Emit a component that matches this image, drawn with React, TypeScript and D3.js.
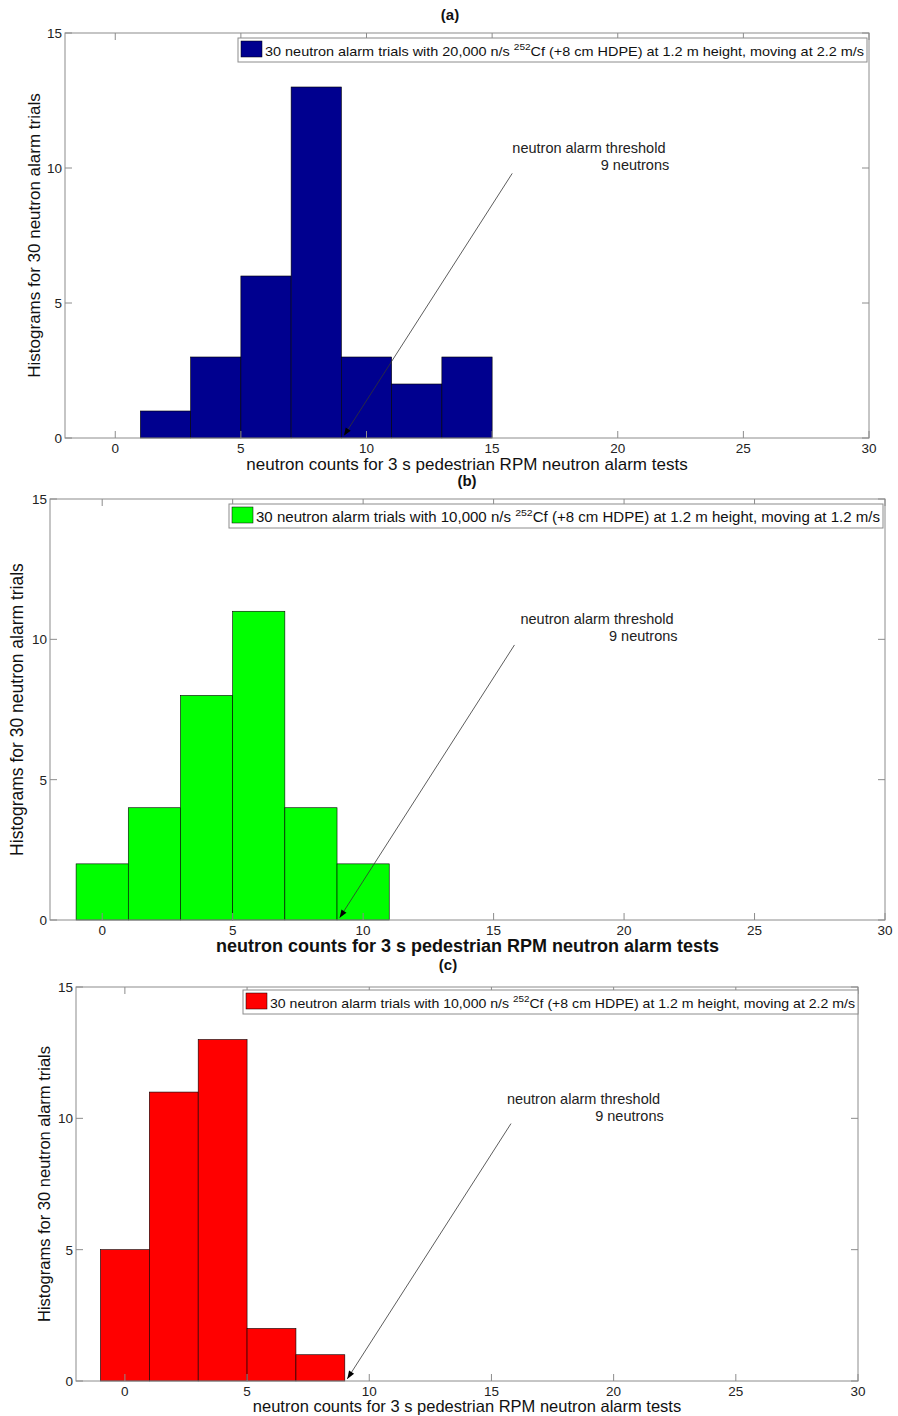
import React from "react";
import * as d3 from "d3";

const binWidth = 2;
const binCentersA = [2, 4, 6, 8, 10, 12, 14];
const countsA = [1, 3, 6, 13, 3, 2, 3];
const binCentersB = [0, 2, 4, 6, 8, 10];
const countsB = [2, 4, 8, 11, 4, 2];
const binCentersC = [0, 2, 4, 6, 8];
const countsC = [5, 11, 13, 2, 1];

const xTicks = [0, 5, 10, 15, 20, 25, 30];
const yTicks = [0, 5, 10, 15];
const xDomain = [-2, 30];
const yDomain = [0, 15];

const thresholdValue = 9;
const yLabel = "Histograms for 30 neutron alarm trials";
const xLabel = "neutron counts for 3 s pedestrian RPM neutron alarm tests";
const legendA = ["30 neutron alarm trials with 20,000 n/s ", "252", "Cf (+8 cm HDPE) at 1.2 m height, moving at 2.2 m/s"];
const legendB = ["30 neutron alarm trials with 10,000 n/s ", "252", "Cf (+8 cm HDPE) at 1.2 m height, moving at 1.2 m/s"];
const legendC = ["30 neutron alarm trials with 10,000 n/s ", "252", "Cf (+8 cm HDPE) at 1.2 m height, moving at 2.2 m/s"];

const FONT = "Liberation Sans, Arial, sans-serif";
const AXIS = "#8c8c8c";

type PanelProps = {
  title: string;
  centers: number[];
  counts: number[];
  color: string;
  left: number;
  right: number;
  top: number;
  bottom: number;
  legend: string[];
  legendBox: [number, number, number, number];
  legendFont: number;
  titleX: number;
  titleY: number;
  yLabelX: number;
  yLabelSize: number;
  xLabelY: number;
  xLabelSize: number;
  xLabelBold?: boolean;
};

function Panel(p: PanelProps) {
  const x = d3.scaleLinear().domain(xDomain).range([p.left, p.right]);
  const y = d3.scaleLinear().domain(yDomain).range([p.bottom, p.top]);
  const tl = 7;
  const [lx, ly, lw, lh] = p.legendBox;
  const midX = (p.left + p.right) / 2;
  const tail = [15.8, 9.8];
  const head = [thresholdValue + 0.1, 0.08];
  const hx = x(head[0]), hy = y(head[1]);
  const tx = x(tail[0]), ty = y(tail[1]);
  const ang = Math.atan2(ty - hy, tx - hx);
  const aL = 8, aW = 3;
  const p1 = [hx + aL * Math.cos(ang) - aW * Math.sin(ang), hy + aL * Math.sin(ang) + aW * Math.cos(ang)];
  const p2 = [hx + aL * Math.cos(ang) + aW * Math.sin(ang), hy + aL * Math.sin(ang) - aW * Math.cos(ang)];
  return (
    <g fontFamily={FONT}>
      <text x={p.titleX} y={p.titleY} fontSize={15} fontWeight="bold" textAnchor="middle" fill="#111">{p.title}</text>
      {p.centers.map((c, i) => (
        <rect key={i} x={x(c - binWidth / 2)} y={y(p.counts[i])} width={x(c + binWidth / 2) - x(c - binWidth / 2)} height={y(0) - y(p.counts[i])} fill={p.color} stroke="#000" strokeWidth={0.6} />
      ))}
      <rect x={p.left} y={p.top} width={p.right - p.left} height={p.bottom - p.top} fill="none" stroke={AXIS} strokeWidth={1} />
      {xTicks.map((t) => (
        <g key={"x" + t}>
          <line x1={x(t)} x2={x(t)} y1={p.bottom} y2={p.bottom - tl} stroke={AXIS} />
          <line x1={x(t)} x2={x(t)} y1={p.top} y2={p.top + tl} stroke={AXIS} />
          <text x={x(t)} y={p.bottom + 15} fontSize={13.5} textAnchor="middle" fill="#222">{t}</text>
        </g>
      ))}
      {yTicks.map((t) => (
        <g key={"y" + t}>
          <line x1={p.left} x2={p.left + tl} y1={y(t)} y2={y(t)} stroke={AXIS} />
          <line x1={p.right} x2={p.right - tl} y1={y(t)} y2={y(t)} stroke={AXIS} />
          <text x={p.left - 3} y={y(t) + 5} fontSize={13.5} textAnchor="end" fill="#222">{t}</text>
        </g>
      ))}
      <line x1={tx} y1={ty} x2={hx} y2={hy} stroke="#333" strokeWidth={0.8} />
      <polygon points={`${hx},${hy} ${p1[0]},${p1[1]} ${p2[0]},${p2[1]}`} fill="#000" />
      <text x={x(21.9)} y={y(10.55)} fontSize={14.5} textAnchor="end" fill="#222">neutron alarm threshold</text>
      <text x={x(22.05)} y={y(10.55) + 17} fontSize={14.5} textAnchor="end" fill="#222">9 neutrons</text>
      <rect x={lx} y={ly} width={lw} height={lh} fill="#fff" stroke={AXIS} />
      <rect x={lx + 3} y={ly + 3} width={21} height={16} fill={p.color} stroke="#000" strokeWidth={0.5} />
      <text x={lx + 27} y={ly + 18} fontSize={p.legendFont} fill="#111" textLength={lw - 30} lengthAdjust="spacingAndGlyphs">
        {p.legend[0]}
        <tspan dy={-6} fontSize={p.legendFont * 0.7}>{p.legend[1]}</tspan>
        <tspan dy={6}>{p.legend[2]}</tspan>
      </text>
      <text transform={`translate(${p.yLabelX},${(p.top + p.bottom) / 2}) rotate(-90)`} fontSize={p.yLabelSize} textAnchor="middle" fill="#111">{yLabel}</text>
      <text x={midX} y={p.xLabelY} fontSize={p.xLabelSize} fontWeight={p.xLabelBold ? "bold" : "normal"} textAnchor="middle" fill="#111">{xLabel}</text>
    </g>
  );
}

export default function App() {
  return (
    <svg width={898} height={1416} style={{ position: "absolute", left: 0, top: 0, background: "#fff" }}>
      <rect width={898} height={1416} fill="#fff" />
      <Panel title="(a)" centers={binCentersA} counts={countsA} color="#00008f" left={65} right={869} top={33} bottom={438}
        legend={legendA} legendBox={[238, 38, 629, 24]} legendFont={13.5} titleX={450} titleY={20} yLabelX={40} yLabelSize={17} xLabelY={470} xLabelSize={17} />
      <Panel title="(b)" centers={binCentersB} counts={countsB} color="#00ff00" left={50} right={885} top={499} bottom={920}
        legend={legendB} legendBox={[229, 504, 654, 24]} legendFont={14} titleX={467} titleY={486} yLabelX={23} yLabelSize={17.5} xLabelY={952} xLabelSize={18} xLabelBold />
      <Panel title="(c)" centers={binCentersC} counts={countsC} color="#ff0000" left={76} right={858} top={987} bottom={1381}
        legend={legendC} legendBox={[243, 990, 615, 24]} legendFont={13.5} titleX={448} titleY={970} yLabelX={50} yLabelSize={16.5} xLabelY={1412} xLabelSize={16.5} />
    </svg>
  );
}
